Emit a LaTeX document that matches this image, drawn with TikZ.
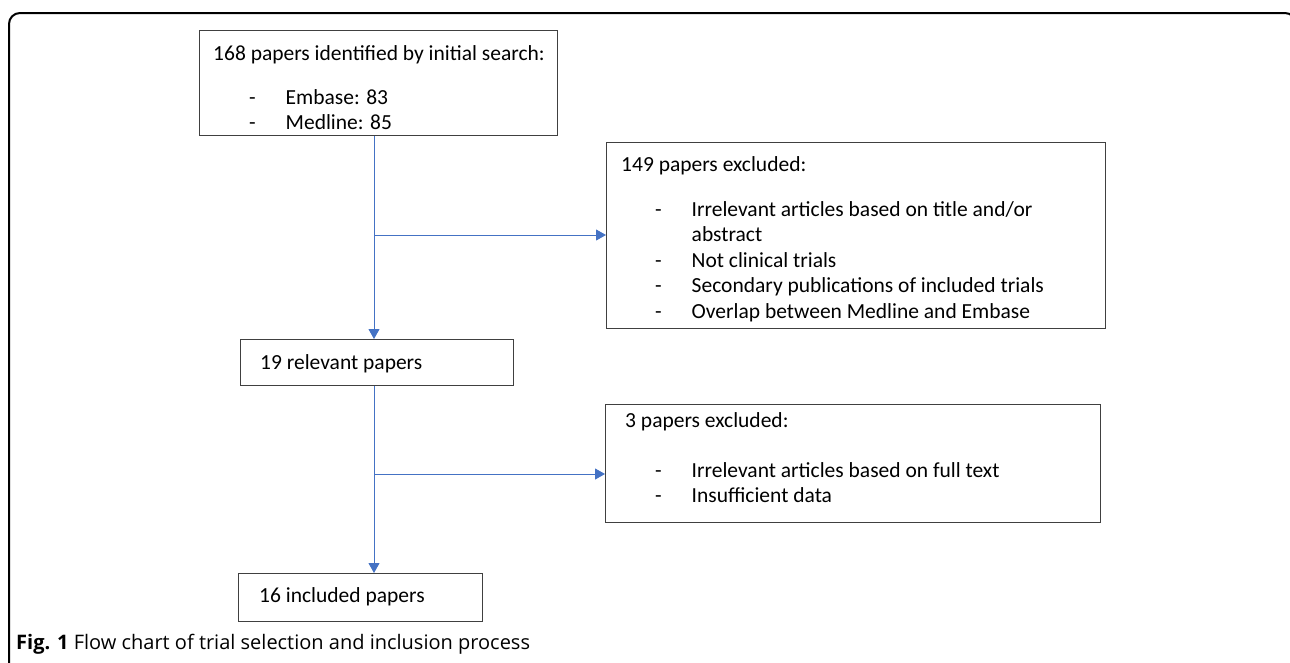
\documentclass[tikz,border=0pt]{standalone}
\usepackage{fontspec}
\setmainfont{Carlito}
\newfontfamily\capfont{Open Sans}
\usetikzlibrary{arrows.meta, positioning, calc}

\definecolor{flowblue}{HTML}{4472C4}
\definecolor{edgegray}{HTML}{404040}
\newcommand{\itemdash}{\makebox[36.5pt][l]{-}}

\begin{document}
\begin{tikzpicture}[
    x=1pt, y=-1pt,
    box/.style={rectangle, draw=edgegray, line width=1.1pt, anchor=north west,
        inner sep=0pt},
    txt/.style={anchor=base west, inner sep=0pt, align=left,
        font=\fontsize{21.5}{25.5}\selectfont},
    flow/.style={draw=flowblue, line width=1pt,
        -{Triangle[length=10pt, width=11pt, fill=flowblue]}},
    frame/.style={draw=black, line width=2pt, rounded corners=11pt}
]

    \useasboundingbox (0,0) rectangle (1290,662);
    \clip (0,0) rectangle (1290,662);

    % Frame ------------------------------------------------------

    \draw[frame] (9,700) -- (9,13) -- (1296,13) -- (1296,700);

    % Nodes ------------------------------------------------------

    \node[box, minimum width=358pt, minimum height=105pt] (search) at (199,30) {};
    \node[box, minimum width=499pt, minimum height=186pt] (excl1) at (606,142) {};
    \node[box, minimum width=273pt, minimum height=46pt] (relevant) at (240,339) {};
    \node[box, minimum width=495pt, minimum height=118pt] (excl2) at (605,404) {};
    \node[box, minimum width=244pt, minimum height=48pt] (included) at (238,573) {};

    % multi-line nodes: base is the last line
    \node[txt] (search-t) at (213,60) {168 papers identified by initial search:};
    \node[txt] (search-l) at (249,129.5) {\itemdash Embase: 83\\\itemdash Medline: 85};

    \node[txt] (excl1-t) at (621,171) {149 papers excluded:};
    \node[txt] (excl1-l) at (655,318) {\itemdash Irrelevant articles based on title and/or\\
        \hspace*{36.5pt}abstract\\
        \itemdash Not clinical trials\\
        \itemdash Secondary publications of included trials\\
        \itemdash Overlap between Medline and Embase};

    \node[txt] (relevant-t) at (260,369) {19 relevant papers};

    \node[txt] (excl2-t) at (625,427) {3 papers excluded:};
    \node[txt] (excl2-l) at (655,502.5) {\itemdash Irrelevant articles based on full text\\
        \itemdash Insufficient data};

    \node[txt] (included-t) at (259,602) {16 included papers};

    \node[anchor=base west, inner sep=0pt,
        font=\capfont\fontsize{20}{24}\selectfont] (caption) at (16,649)
        {\textbf{Fig. 1} Flow chart of trial selection and inclusion process};

    % Connectors -------------------------------------------------

    \coordinate (trunk) at (374,0);
    \coordinate (split1) at (374,235);
    \coordinate (split2) at (374,474);

    \draw[flow] (search.south -| trunk) -- (relevant.north -| trunk);
    \draw[flow] (relevant.south -| trunk) -- (included.north -| trunk);
    \draw[flow] (split1) -- (split1 -| excl1.west);
    \draw[flow] (split2) -- (split2 -| excl2.west);

\end{tikzpicture}
\end{document}
